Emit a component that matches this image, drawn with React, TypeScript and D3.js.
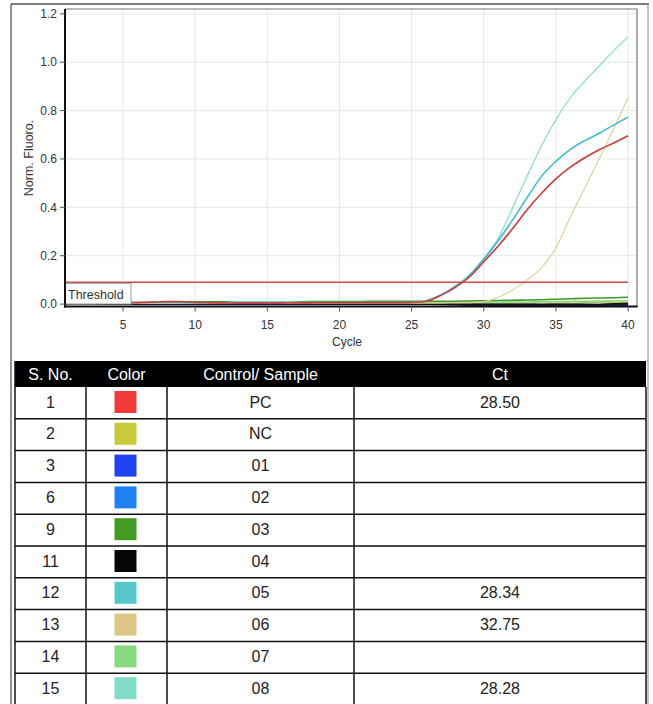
import React from "react";
import * as d3 from "d3";

// ---------- DATA ----------
const cycles = d3.range(1, 41);
const xTicks = [5, 10, 15, 20, 25, 30, 35, 40];
const yTicks = [0, 0.2, 0.4, 0.6, 0.8, 1.0, 1.2];
const threshold = 0.09;

const sNo = ["1", "2", "3", "6", "9", "11", "12", "13", "14", "15"];
const sampleNames = ["PC", "NC", "01", "02", "03", "04", "05", "06", "07", "08"];
const ctValues = ["28.50", "", "", "", "", "", "28.34", "32.75", "", "28.28"];
const swatchColors = ["#ef3a3a", "#c9c93e", "#2042f0", "#1f82f2", "#459a22", "#050505", "#55c9ca", "#dcc684", "#88da7e", "#82dcca"];
const lineColors = ["#cc3a3a", "#b8be3c", "#14287e", "#1f78e0", "#3f9a2a", "#111111", "#3cbec8", "#e2cf9c", "#86d47c", "#86d8d2"];

const valsPC = [0.004, 0.002, 0.003, 0.004, 0.005, 0.006, 0.008, 0.01, 0.01, 0.007, 0.006, 0.005, 0.004, 0.004, 0.004, 0.004, 0.005, 0.005, 0.006, 0.006, 0.006, 0.006, 0.006, 0.006, 0.007, 0.012, 0.035, 0.068, 0.112, 0.175, 0.24, 0.312, 0.39, 0.458, 0.518, 0.566, 0.605, 0.638, 0.666, 0.696];
const valsNC = [0.002, 0.002, 0.003, 0.003, 0.003, 0.003, 0.003, 0.003, 0.003, 0.003, 0.003, 0.003, 0.003, 0.003, 0.003, 0.003, 0.004, 0.004, 0.004, 0.004, 0.004, 0.004, 0.004, 0.004, 0.004, 0.004, 0.004, 0.004, 0.004, 0.004, 0.004, 0.004, 0.004, 0.004, 0.004, 0.004, 0.006, 0.008, 0.008, 0.007];
const vals01 = [0.001, 0.001, 0.001, 0.001, 0.001, 0.001, 0.001, 0.001, 0.001, 0.001, 0.001, 0.001, 0.001, 0.001, 0.001, 0.001, 0.001, 0.001, 0.0, 0.0, 0.0, 0.0, 0.0, 0.0, 0.0, 0.0, -0.001, -0.002, -0.004, -0.004, -0.004, -0.004, -0.004, -0.004, -0.004, -0.004, -0.004, -0.004, -0.004, -0.004];
const vals02 = [0.0, 0.0, 0.0, 0.0, 0.0, 0.0, 0.0, 0.0, 0.0, 0.0, 0.0, 0.0, 0.0, 0.0, 0.0, 0.0, 0.0, 0.0, 0.0, 0.0, 0.0, 0.0, 0.0, 0.0, 0.0, -0.001, -0.001, -0.002, -0.002, -0.002, -0.002, -0.002, -0.002, -0.002, -0.002, -0.002, -0.001, -0.002, -0.003, -0.003];
const vals03 = [0.003, 0.003, 0.004, 0.004, 0.005, 0.006, 0.006, 0.007, 0.008, 0.009, 0.009, 0.009, 0.007, 0.007, 0.007, 0.007, 0.008, 0.01, 0.01, 0.01, 0.01, 0.011, 0.011, 0.011, 0.011, 0.012, 0.012, 0.012, 0.013, 0.014, 0.015, 0.016, 0.017, 0.018, 0.02, 0.022, 0.024, 0.025, 0.026, 0.028];
const vals04 = [0.002, 0.002, 0.001, 0.001, 0.001, 0.001, 0.001, 0.001, 0.001, 0.001, 0.001, 0.001, 0.001, 0.001, 0.001, 0.001, 0.001, 0.001, 0.001, 0.001, 0.001, 0.001, 0.001, 0.001, 0.001, 0.0, 0.0, 0.0, -0.001, -0.001, -0.001, -0.001, -0.001, -0.002, -0.001, -0.001, -0.002, -0.002, 0.001, 0.002];
const vals05 = [0.004, 0.003, 0.003, 0.004, 0.005, 0.006, 0.007, 0.007, 0.006, 0.005, 0.005, 0.005, 0.007, 0.007, 0.007, 0.007, 0.006, 0.006, 0.006, 0.006, 0.006, 0.006, 0.006, 0.006, 0.007, 0.013, 0.037, 0.072, 0.118, 0.185, 0.262, 0.348, 0.44, 0.528, 0.59, 0.64, 0.676, 0.706, 0.74, 0.773];
const vals06 = [0.003, 0.003, 0.003, 0.003, 0.003, 0.003, 0.003, 0.003, 0.003, 0.003, 0.003, 0.003, 0.003, 0.003, 0.003, 0.003, 0.003, 0.004, 0.004, 0.004, 0.004, 0.004, 0.004, 0.004, 0.004, 0.004, 0.004, 0.005, 0.006, 0.01, 0.028, 0.058, 0.1, 0.15, 0.233, 0.36, 0.48, 0.6, 0.725, 0.852];
const vals07 = [0.004, 0.004, 0.004, 0.004, 0.004, 0.004, 0.004, 0.004, 0.004, 0.004, 0.004, 0.004, 0.004, 0.004, 0.005, 0.005, 0.005, 0.006, 0.006, 0.006, 0.006, 0.006, 0.006, 0.006, 0.006, 0.007, 0.007, 0.007, 0.008, 0.008, 0.008, 0.009, 0.009, 0.01, 0.01, 0.011, 0.012, 0.013, 0.013, 0.013];
const vals08 = [0.003, 0.003, 0.006, 0.007, 0.007, 0.007, 0.006, 0.006, 0.006, 0.006, 0.006, 0.006, 0.008, 0.008, 0.008, 0.008, 0.006, 0.006, 0.006, 0.006, 0.006, 0.006, 0.006, 0.006, 0.007, 0.014, 0.038, 0.074, 0.12, 0.19, 0.272, 0.398, 0.528, 0.655, 0.762, 0.853, 0.922, 0.985, 1.047, 1.105];

const seriesValues = [valsPC, valsNC, vals01, vals02, vals03, vals04, vals05, vals06, vals07, vals08];
// draw order (index into series)
const drawOrder = [1, 3, 2, 5, 8, 4, 7, 9, 6, 0];
const lineWidths = [1.6, 1.4, 1.8, 1.6, 1.6, 1.8, 1.6, 1.2, 1.4, 1.2];

// ---------- LAYOUT ----------
const W = 653;
const H = 704;
const plot = { left: 65, right: 637, top: 9, bottom: 306.5 };
const table = { left: 15, right: 646, top: 361, headerBottom: 387, rowH: 31.8 };
const colEdges = [15, 86, 167, 354, 646];

export default function App() {
  const x = d3.scaleLinear().domain([1, 40.62]).range([65.3, plot.right]);
  const y = d3.scaleLinear().domain([-0.01, 1.22]).range([plot.bottom, plot.top]);
  const line = d3
    .line<number>()
    .x((_, i) => x(cycles[i]))
    .y((d) => y(d))
    .curve(d3.curveMonotoneX);

  const chartFont = "Arial, 'Liberation Sans', Helvetica, sans-serif";
  const colCenters = colEdges.slice(0, -1).map((e, i) => (e + colEdges[i + 1]) / 2);
  const headers = ["S. No.", "Color", "Control/ Sample", "Ct"];

  return (
    <div style={{ position: "fixed", left: 0, top: 0, width: W, height: H, background: "#fff" }}>
      <svg width={W} height={H} style={{ display: "block", fontFamily: chartFont }}>
        <rect x={0} y={0} width={W} height={H} fill="#fff" />
        {/* outer frame */}
        <line x1={11} y1={4} x2={649} y2={4} stroke="#555" strokeWidth={1.3} />
        <line x1={11} y1={4} x2={11} y2={H} stroke="#555" strokeWidth={1.3} />
        <line x1={648} y1={4} x2={648} y2={H} stroke="#888" strokeWidth={1} />

        {/* grid */}
        <defs>
          <clipPath id="plotClip">
            <rect x={plot.left} y={plot.top} width={plot.right - plot.left} height={plot.bottom - plot.top + 1} />
          </clipPath>
        </defs>
        {xTicks.map((t) => (
          <line key={"gx" + t} x1={x(t)} x2={x(t)} y1={plot.top} y2={plot.bottom} stroke="#e6e6e6" strokeWidth={1} />
        ))}
        {yTicks.slice(1).map((t) => (
          <line key={"gy" + t} x1={plot.left} x2={plot.right} y1={y(t)} y2={y(t)} stroke="#e6e6e6" strokeWidth={1} />
        ))}

        {/* curves */}
        <g clipPath="url(#plotClip)">
          {drawOrder.map((si) => (
            <path
              key={"s" + si}
              d={line(seriesValues[si]) || ""}
              fill="none"
              stroke={lineColors[si]}
              strokeWidth={lineWidths[si]}
            />
          ))}
        </g>

        {/* threshold */}
        <line x1={plot.left} x2={x(40)} y1={y(threshold)} y2={y(threshold)} stroke="#cc4a4a" strokeWidth={1.5} />
        <rect x={plot.left} y={y(threshold) + 1} width={66} height={plot.bottom - y(threshold) - 3.5} fill="#fff" stroke="#9a9a9a" strokeWidth={1} />
        <text x={68} y={298.5} fontSize={12.5} fill="#333">Threshold</text>

        {/* frame */}
        <line x1={plot.left} x2={plot.right} y1={plot.top} y2={plot.top} stroke="#777" strokeWidth={1.2} />
        <line x1={plot.right} x2={plot.right} y1={plot.top} y2={plot.bottom} stroke="#777" strokeWidth={1.2} />
        <line x1={plot.left} x2={plot.left} y1={plot.top} y2={plot.bottom + 1} stroke="#111" strokeWidth={2} />
        <line x1={plot.left - 1} x2={plot.right + 0.6} y1={plot.bottom} y2={plot.bottom} stroke="#111" strokeWidth={2} />

        {/* y axis ticks */}
        {yTicks.map((t) => (
          <g key={"yt" + t}>
            <line x1={plot.left - 5} x2={plot.left} y1={y(t)} y2={y(t)} stroke="#555" strokeWidth={1} />
            <text x={57} y={y(t)} dy="0.35em" textAnchor="end" fontSize={12} fill="#333">
              {d3.format(".1f")(t)}
            </text>
          </g>
        ))}
        {/* x axis ticks */}
        {xTicks.map((t) => (
          <g key={"xt" + t}>
            <line x1={x(t)} x2={x(t)} y1={plot.bottom} y2={plot.bottom + 5} stroke="#555" strokeWidth={1} />
            <text x={x(t)} y={329} textAnchor="middle" fontSize={12} fill="#333">
              {t}
            </text>
          </g>
        ))}
        <text x={347} y={345.5} textAnchor="middle" fontSize={12} fill="#333">Cycle</text>
        <text transform="translate(33,158) rotate(-90)" textAnchor="middle" fontSize={12.5} fill="#333">
          Norm. Fluoro.
        </text>

        {/* table */}
        <rect x={table.left} y={table.top} width={table.right - table.left} height={table.headerBottom - table.top} fill="#000" />
        {headers.map((h, i) => (
          <text key={"h" + i} x={colCenters[i]} y={380} textAnchor="middle" fontSize={16} fill="#fff">
            {h}
          </text>
        ))}
        {sNo.map((s, i) => {
          const top = table.headerBottom + i * table.rowH;
          return (
            <g key={"r" + i}>
              <text x={colCenters[0]} y={top + 20.5} textAnchor="middle" fontSize={16} fill="#222">{s}</text>
              <rect x={114.5} y={top + 4} width={22} height={22} fill={swatchColors[i]} />
              <text x={colCenters[2]} y={top + 20.5} textAnchor="middle" fontSize={16} fill="#222">{sampleNames[i]}</text>
              <text x={colCenters[3]} y={top + 20.5} textAnchor="middle" fontSize={16} fill="#222">{ctValues[i]}</text>
              <line x1={table.left} x2={table.right} y1={top + table.rowH} y2={top + table.rowH} stroke="#111" strokeWidth={1.5} />
            </g>
          );
        })}
        {colEdges.map((e, i) => (
          <line key={"v" + i} x1={e} x2={e} y1={table.headerBottom} y2={H} stroke="#111" strokeWidth={1.5} />
        ))}
        <line x1={table.left} x2={table.left} y1={table.top} y2={table.headerBottom} stroke="#111" strokeWidth={1.5} />
      </svg>
    </div>
  );
}
